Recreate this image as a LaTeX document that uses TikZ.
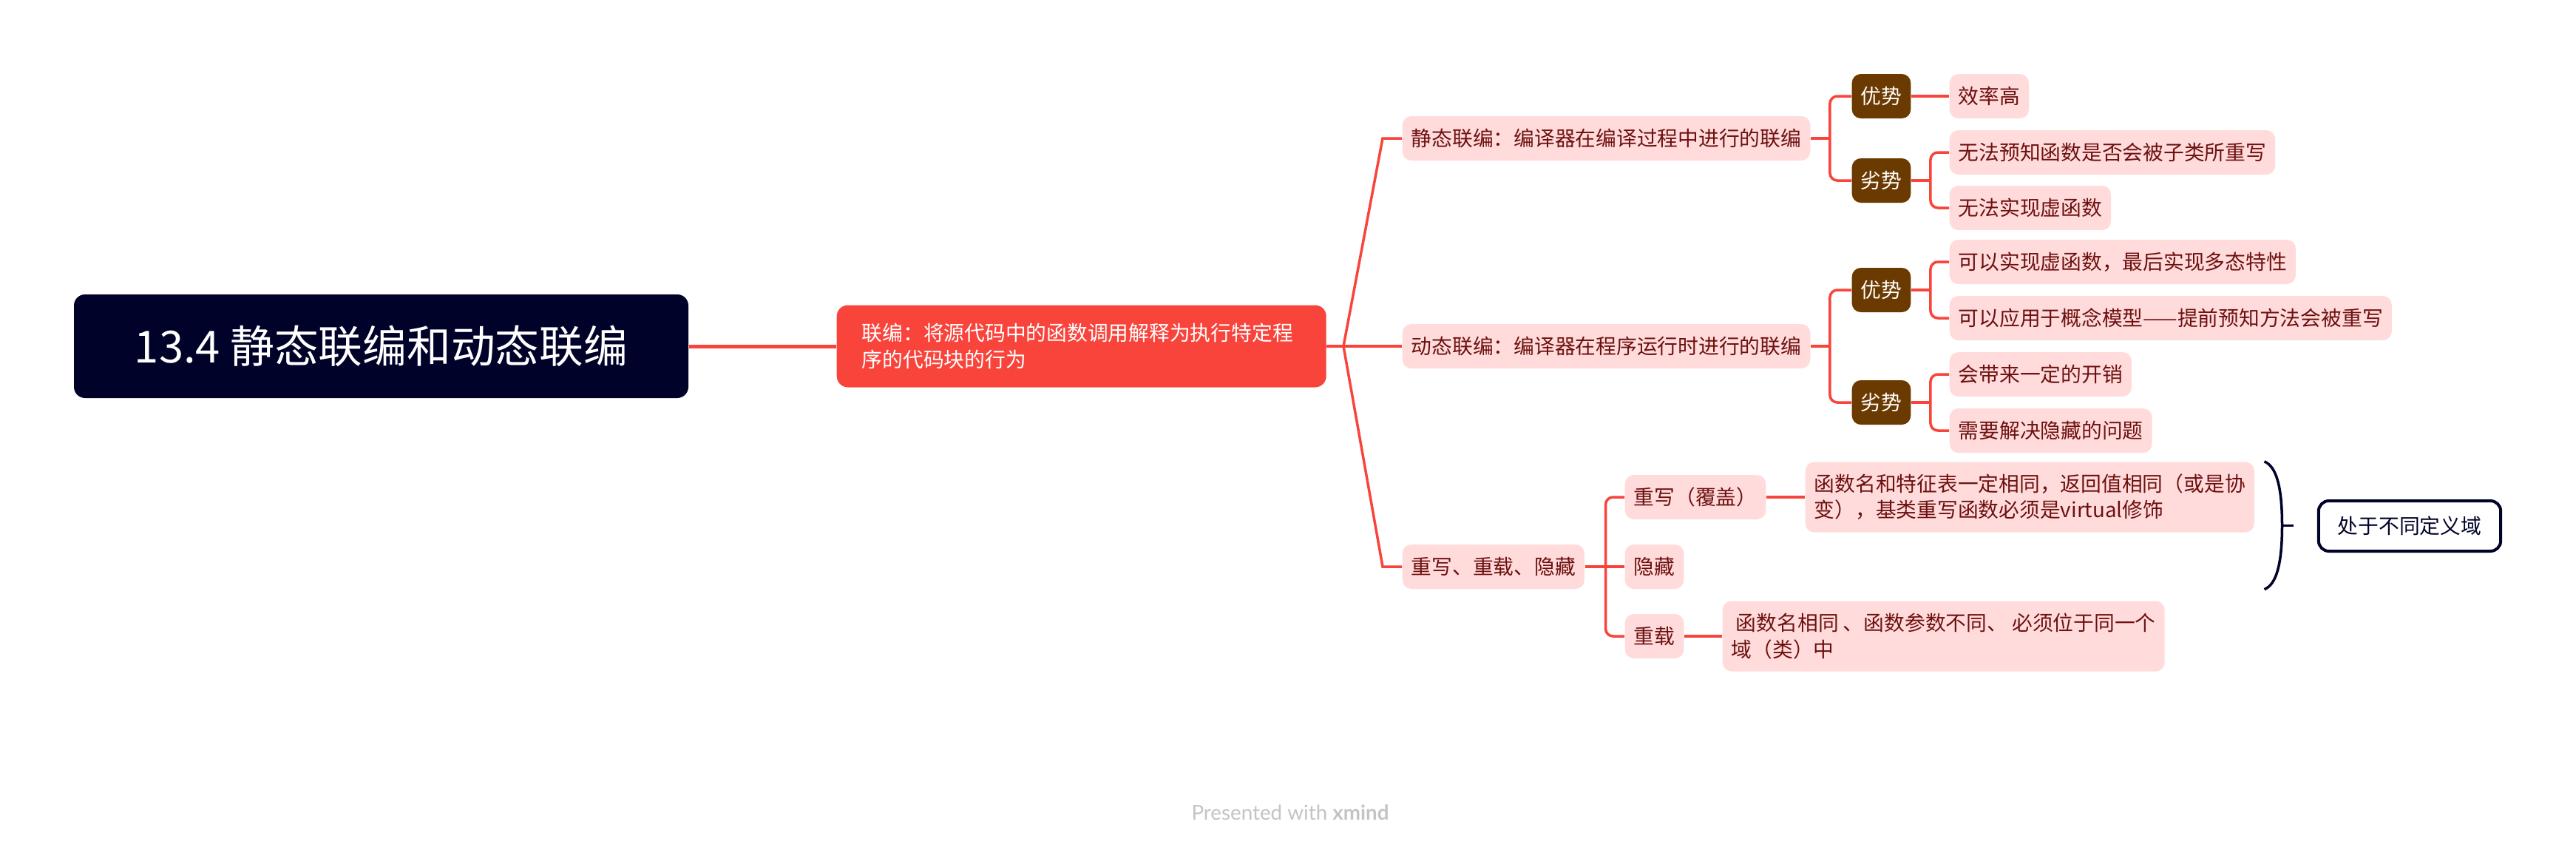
\documentclass[tikz,border=0pt]{standalone}
\usepackage{fontspec}
\setmainfont{Noto Sans CJK SC}
\newfontfamily\markfont{Lato}
\usetikzlibrary{positioning, calc}
\definecolor{rootfill}{HTML}{000229}
\definecolor{mainred}{HTML}{F9443C}
\definecolor{subfill}{HTML}{FFDCDB}
\definecolor{subtext}{HTML}{6E1010}
\definecolor{tagfill}{HTML}{6B3A00}
\definecolor{marktext}{HTML}{C4C4C4}
\newcommand{\topicfont}{\fontsize{7.9pt}{10pt}\selectfont}
\tikzset{
	rootbox/.style={fill=rootfill, text=white, rounded corners=0.15cm, minimum width=8.31cm, minimum height=1.40cm, font=\fontsize{17pt}{20pt}\selectfont},
	mainbox/.style={fill=mainred, text=white, rounded corners=0.15cm, anchor=west, text width=5.94cm, inner xsep=0.34cm, minimum height=1.11cm, align=left, font=\fontsize{7.9pt}{10.2pt}\selectfont},
	topicbox/.style={fill=subfill, text=subtext, rounded corners=0.12cm, anchor=west, inner xsep=0.12cm, inner ysep=0pt, minimum height=0.60cm, font=\topicfont},
	tagbox/.style={fill=tagfill, text=white, rounded corners=0.12cm, anchor=west, inner xsep=0.12cm, inner ysep=0pt, minimum height=0.60cm, font=\topicfont},
	twoline/.style={align=left, minimum height=0.95cm},
	sumbox/.style={draw=rootfill, line width=0.04cm, fill=white, text=rootfill, rounded corners=0.14cm, inner xsep=0.26cm, minimum height=0.68cm, font=\topicfont},
	link/.style={draw=mainred, line width=0.035cm},
	elbow/.style={link, rounded corners=0.1cm},
}

\begin{document}
\begin{tikzpicture}
		\path[fill=white] (0,0) rectangle (34.84,-11.48);
		\useasboundingbox (0,0) rectangle (34.84,-11.48);

		% Root and central topic
		\node[rootbox] (root) at (5.155,-4.68) {13.4 静态联编和动态联编};
		\node[mainbox] (bind) at (11.31,-4.68) {联编：将源代码中的函数调用解释为执行特定程\\序的代码块的行为};
		\draw[link, line width=0.05cm] (root.east) -- (bind.west);

		% Main branches
		\coordinate (fork) at (18.17,-4.68);
		\node[topicbox] (static) at (18.96,-1.87) {静态联编：编译器在编译过程中进行的联编};
		\node[topicbox] (dynamic) at (18.96,-4.68) {动态联编：编译器在程序运行时进行的联编};
		\node[topicbox] (rules) at (18.96,-7.66) {重写、重载、隐藏};
		\draw[link] (bind.east) -- (fork) -- (dynamic.west);
		\draw[link] (fork) -- (18.70,-1.87) -- (static.west);
		\draw[link] (fork) -- (18.70,-7.66) -- (rules.west);

		% Static binding
		\node[tagbox] (spros) at (25.04,-1.30) {优势};
		\node[tagbox] (scons) at (25.04,-2.44) {劣势};
		\node[topicbox] (sp1) at (26.36,-1.30) {效率高};
		\node[topicbox] (sc1) at (26.36,-2.06) {无法预知函数是否会被子类所重写};
		\node[topicbox] (sc2) at (26.36,-2.81) {无法实现虚函数};
		\draw[link] (static.east) -- ++(0.26,0) coordinate (sspine);
		\draw[elbow] (spros.west) -| (sspine) |- (scons.west);
		\draw[link] (spros.east) -- (sp1.west);
		\draw[link] (scons.east) -- ++(0.26,0) coordinate (scspine);
		\draw[elbow] (sc1.west) -| (scspine) |- (sc2.west);

		% Dynamic binding
		\node[tagbox] (dpros) at (25.04,-3.92) {优势};
		\node[tagbox] (dcons) at (25.04,-5.44) {劣势};
		\node[topicbox] (dp1) at (26.36,-3.54) {可以实现虚函数，最后实现多态特性};
		\node[topicbox] (dp2) at (26.36,-4.30) {可以应用于概念模型——提前预知方法会被重写};
		\node[topicbox] (dc1) at (26.36,-5.06) {会带来一定的开销};
		\node[topicbox] (dc2) at (26.36,-5.82) {需要解决隐藏的问题};
		\draw[link] (dynamic.east) -- ++(0.26,0) coordinate (dspine);
		\draw[elbow] (dpros.west) -| (dspine) |- (dcons.west);
		\draw[link] (dpros.east) -- ++(0.26,0) coordinate (dpspine);
		\draw[elbow] (dp1.west) -| (dpspine) |- (dp2.west);
		\draw[link] (dcons.east) -- ++(0.26,0) coordinate (dcspine);
		\draw[elbow] (dc1.west) -| (dcspine) |- (dc2.west);

		% Override, overload, hide
		\node[topicbox] (override) at (21.97,-6.72) {重写（覆盖）};
		\node[topicbox] (hide) at (21.97,-7.66) {隐藏};
		\node[topicbox] (overload) at (21.97,-8.60) {重载};
		\node[topicbox, twoline] (ovdesc) at (24.41,-6.72) {函数名和特征表一定相同，返回值相同（或是协\\变），基类重写函数必须是virtual修饰};
		\node[topicbox, twoline] (oldesc) at (23.29,-8.60) {\ 函数名相同 、函数参数不同、 必须位于同一个\\域（类）中};
		\draw[link] (rules.east) -- ++(0.28,0) coordinate (rspine) -- (hide.west);
		\draw[elbow] (override.west) -| (rspine) |- (overload.west);
		\draw[link] (override.east) -- (ovdesc.west);
		\draw[link] (overload.east) -- (oldesc.west);

		% Summary brace
		\coordinate (brtop) at ($(ovdesc.north east)+(0.13,0)$);
		\coordinate (brbot) at (brtop |- hide.south);
		\coordinate (brmid) at ($(brtop)!0.5!(brbot)+(0.24,0)$);
		\draw[draw=rootfill, line width=0.035cm] (brtop) .. controls ($(brtop)+(0.17,-0.07)$) and ($(brmid)+(0,0.50)$) .. (brmid) .. controls ($(brmid)+(0,-0.50)$) and ($(brbot)+(0.17,0.07)$) .. (brbot);
		\draw[draw=rootfill, line width=0.035cm] (brmid) -- ++(0.15,0);
		\node[sumbox] (domain) at (32.59,-7.11) {处于不同定义域};

		% Watermark
		\node[font=\markfont\fontsize{7.9pt}{9pt}\selectfont, text=marktext] (mark) at (17.45,-10.98) {Presented with \textbf{xmind}};
\end{tikzpicture}
\end{document}
